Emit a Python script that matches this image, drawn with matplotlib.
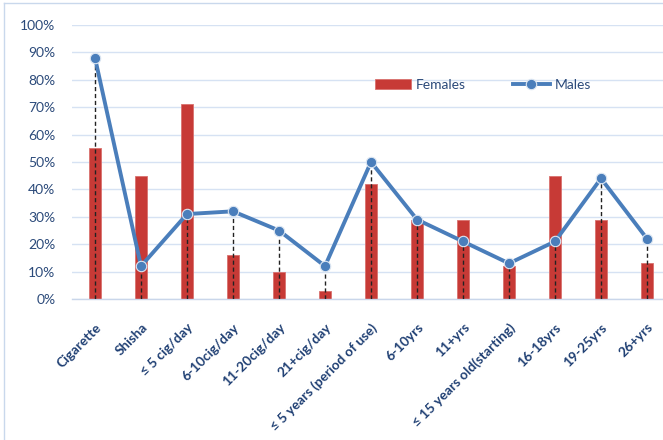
import matplotlib
matplotlib.use('Agg')
import matplotlib.pyplot as plt
from matplotlib.ticker import PercentFormatter
import numpy as np

plt.rcParams['font.family'] = ['Lato', 'DejaVu Sans']

# Data (percent)
categories = ['Cigarette', 'Shisha', '\u2264 5 cig/day', '6-10cig/day', '11-20cig/day',
              '21+cig/day', '\u2264 5 years (period of use)', '6-10yrs', '11+yrs',
              '\u2264 15 years old(starting)', '16-18yrs', '19-25yrs', '26+yrs']
females = [55, 45, 71, 16, 10, 3, 42, 29, 29, 12, 45, 29, 13]
males = [88, 12, 31, 32, 25, 12, 50, 29, 21, 13, 21, 44, 22]
yticks = [0, 10, 20, 30, 40, 50, 60, 70, 80, 90, 100]

bar_color = '#C73A36'
line_color = '#4A7EBB'
text_color = '#2B4A7A'

fig = plt.figure(figsize=(6.63, 4.40), dpi=100)
ax = fig.add_axes([72 / 663, 141 / 440, 598 / 663, 274 / 440])
ax.patch.set_visible(False)

x = np.arange(len(categories))

# Bars for females
bars = ax.bar(x, females, width=0.26, color=bar_color, edgecolor='#D9716E', linewidth=0.6,
              zorder=2, label='Females')

# Drop lines from the male points to the axis
ax.vlines(x, 0, males, colors='#222222', linestyles=(0, (3, 2)), linewidth=1.0, zorder=3)

# Line for males
line, = ax.plot(x, males, '-o', color=line_color, linewidth=2.8, markersize=7.5,
                markeredgecolor='#DCE6F2', markeredgewidth=0.8, zorder=4, label='Males')

ax.set_xlim(-0.5, len(categories) - 0.5)
ax.set_ylim(0, 100)
ax.set_yticks(yticks)
ax.yaxis.set_major_formatter(PercentFormatter(decimals=0))
ax.grid(True, axis='y', color='#D6E2F3', linewidth=1.0, zorder=0)
ax.set_axisbelow(True)

for s in ['left', 'right', 'top']:
    ax.spines[s].set_visible(False)
ax.spines['bottom'].set_color('#C9D6EA')
ax.spines['bottom'].set_linewidth(1.0)
ax.tick_params(axis='both', length=0)
ax.tick_params(axis='y', labelsize=10, labelcolor=text_color, pad=12)

ax.set_xticks(x)
ax.set_xticklabels(categories, rotation=45, ha='right', rotation_mode='anchor',
                   fontsize=9.8, fontweight='bold', color='#1F3F73')
ax.tick_params(axis='x', pad=16)

ax.legend([bars, line], ['Females', 'Males'], loc='upper left', bbox_to_anchor=(0.485, 0.85),
          ncol=2, frameon=False, fontsize=10, handlelength=2.6, columnspacing=3.4,
          handletextpad=0.4, labelcolor=text_color)

# Light chart border (left and top edges only show)
fig.add_artist(plt.Line2D([4 / 663, 4 / 663], [0, 1 - 3 / 440], color='#C9D8EC', linewidth=1.0))
fig.add_artist(plt.Line2D([4 / 663, 1], [1 - 3 / 440, 1 - 3 / 440], color='#C9D8EC', linewidth=1.0))

fig.savefig('out.png', dpi=100)
